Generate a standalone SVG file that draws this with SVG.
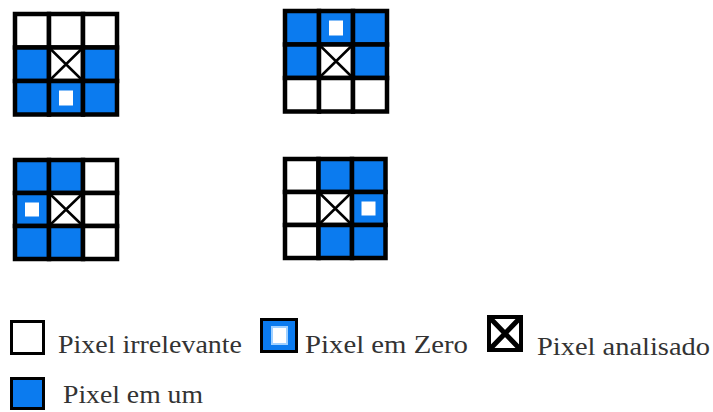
<svg xmlns="http://www.w3.org/2000/svg" width="713" height="412" viewBox="0 0 713 412">
<defs>
<style>
.c{stroke:#000;stroke-width:4.5}
.w{fill:#fff}
.b{fill:#0b7bef}
.z{fill:#fff}
.x{stroke:#000;stroke-width:2.5;fill:none}
.t{font-size:26px;fill:#333}
.lg{stroke:#000;stroke-width:3}
</style>
</defs>
<rect width="713" height="412" fill="#fff"/>

<g id="grid1" transform="translate(15,14)">
<rect class="c w" x="0" y="0" width="34" height="33.5"/>
<rect class="c w" x="34" y="0" width="34" height="33.5"/>
<rect class="c w" x="68" y="0" width="34" height="33.5"/>
<rect class="c b" x="0" y="33.5" width="34" height="33.5"/>
<rect class="c w" x="34" y="33.5" width="34" height="33.5"/>
<rect class="c b" x="68" y="33.5" width="34" height="33.5"/>
<rect class="c b" x="0" y="67" width="34" height="33.5"/>
<rect class="c b" x="34" y="67" width="34" height="33.5"/>
<rect class="c b" x="68" y="67" width="34" height="33.5"/>
<path class="x" d="M36,35.5 L66,65 M66,35.5 L36,65"/>
<rect class="z" x="44" y="76.5" width="14" height="15"/>
</g>

<g id="grid2" transform="translate(285,11)">
<rect class="c b" x="0" y="0" width="34" height="33.5"/>
<rect class="c b" x="34" y="0" width="34" height="33.5"/>
<rect class="c b" x="68" y="0" width="34" height="33.5"/>
<rect class="c b" x="0" y="33.5" width="34" height="33.5"/>
<rect class="c w" x="34" y="33.5" width="34" height="33.5"/>
<rect class="c b" x="68" y="33.5" width="34" height="33.5"/>
<rect class="c w" x="0" y="67" width="34" height="33.5"/>
<rect class="c w" x="34" y="67" width="34" height="33.5"/>
<rect class="c w" x="68" y="67" width="34" height="33.5"/>
<path class="x" d="M36,35.5 L66,65 M66,35.5 L36,65"/>
<rect class="z" x="44" y="9.5" width="14" height="15"/>
</g>

<g id="grid3" transform="translate(15,160)">
<rect class="c b" x="0" y="0" width="34" height="33"/>
<rect class="c b" x="34" y="0" width="34" height="33"/>
<rect class="c w" x="68" y="0" width="34" height="33"/>
<rect class="c b" x="0" y="33" width="34" height="33"/>
<rect class="c w" x="34" y="33" width="34" height="33"/>
<rect class="c w" x="68" y="33" width="34" height="33"/>
<rect class="c b" x="0" y="66" width="34" height="33"/>
<rect class="c b" x="34" y="66" width="34" height="33"/>
<rect class="c w" x="68" y="66" width="34" height="33"/>
<path class="x" d="M36,35 L66,64 M66,35 L36,64"/>
<rect class="z" x="10" y="42.5" width="14" height="14"/>
</g>

<g id="grid4" transform="translate(285,159)">
<rect class="c w" x="0" y="0" width="33.5" height="33"/>
<rect class="c b" x="33.5" y="0" width="33.5" height="33"/>
<rect class="c b" x="67" y="0" width="33.5" height="33"/>
<rect class="c w" x="0" y="33" width="33.5" height="33"/>
<rect class="c w" x="33.5" y="33" width="33.5" height="33"/>
<rect class="c b" x="67" y="33" width="33.5" height="33"/>
<rect class="c w" x="0" y="66" width="33.5" height="33"/>
<rect class="c b" x="33.5" y="66" width="33.5" height="33"/>
<rect class="c b" x="67" y="66" width="33.5" height="33"/>
<path class="x" d="M35.5,35 L65,64 M65,35 L35.5,64"/>
<rect class="z" x="76.5" y="42.5" width="14" height="14"/>
</g>

<g id="legend-irrelevante">
<rect class="lg" x="11.5" y="321.5" width="32" height="32" fill="#fff"/>
<text class="t" font-family="Liberation Serif, serif" x="58" y="353" textLength="184" lengthAdjust="spacingAndGlyphs">Pixel irrelevante</text>
</g>
<g id="legend-zero">
<rect class="lg" x="261.5" y="319.5" width="35" height="32" fill="#0b7bef"/>
<rect x="272" y="327" width="15" height="17" fill="#fff" stroke="#9fd0ff" stroke-width="2"/>
<text class="t" font-family="Liberation Serif, serif" x="305" y="353" textLength="163" lengthAdjust="spacingAndGlyphs">Pixel em Zero</text>
</g>
<g id="legend-analisado">
<rect x="489" y="317" width="32" height="33" fill="#fff" stroke="#000" stroke-width="4"/>
<path d="M491,319 L519,348 M519,319 L491,348" stroke="#000" stroke-width="5" fill="none"/>
<text class="t" font-family="Liberation Serif, serif" x="537" y="355" textLength="173" lengthAdjust="spacingAndGlyphs">Pixel analisado</text>
</g>
<g id="legend-um">
<rect class="lg" x="11.5" y="378.5" width="32" height="30" fill="#0b7bef"/>
<text class="t" font-family="Liberation Serif, serif" x="63" y="403" textLength="140" lengthAdjust="spacingAndGlyphs">Pixel em um</text>
</g>
</svg>
